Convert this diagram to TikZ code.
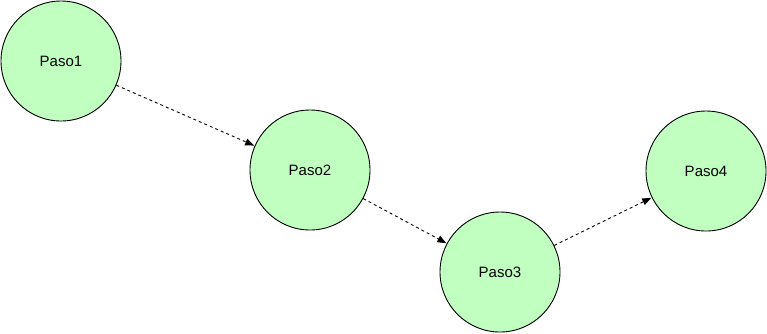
\documentclass[tikz,border=0pt]{standalone}
\usepackage{fontspec}
\setmainfont{Liberation Sans}
\usetikzlibrary{arrows.meta}
\definecolor{stepfill}{HTML}{C0FFC0}
\tikzset{
  stepnode/.style={circle, draw=black, fill=stepfill, line width=0.9pt, minimum size=120pt, inner sep=0pt, font=\fontsize{15}{18}\selectfont},
  flow/.style={draw=black, line width=0.9pt, dash pattern=on 3pt off 3pt, -{Triangle[length=9pt,width=7pt]}, shorten >=0.5pt}
}
\begin{document}
\begin{tikzpicture}[x=1pt,y=-1pt]
\useasboundingbox (0,0) rectangle (767,333);
\node[stepnode] (p1) at (61,61) {Paso1};
\node[stepnode] (p2) at (310,170) {Paso2};
\node[stepnode] (p3) at (500,272) {Paso3};
\node[stepnode] (p4) at (706,171) {Paso4};
\draw[flow] (p1) -- (p2);
\draw[flow] (p2) -- (p3);
\draw[flow] (p3) -- (p4);
\end{tikzpicture}
\end{document}
